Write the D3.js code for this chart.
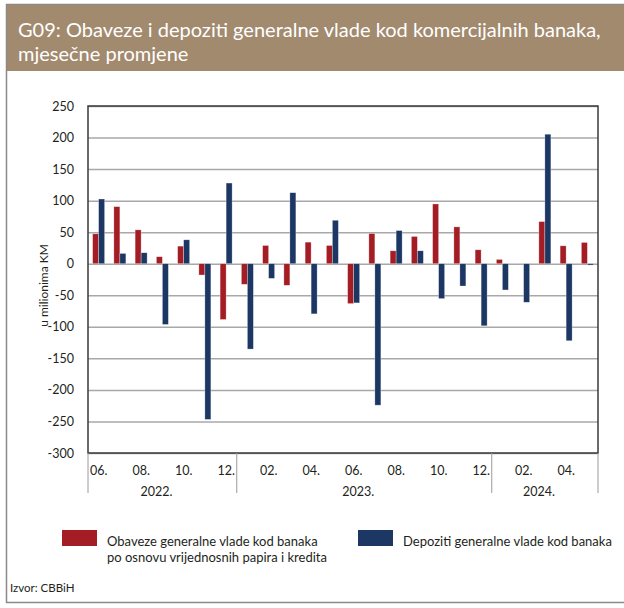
<!DOCTYPE html>
<html>
<head>
<meta charset="utf-8">
<script src="https://cdn.jsdelivr.net/npm/d3@7"></script>
<style>
  body { margin: 0; background: #fff; }
  text { font-family: Lato, "Open Sans", sans-serif; fill: #231f20; }
</style>
</head>
<body>
<div id="plot"></div>
<script>
const months = [
  "2022-06", "2022-07", "2022-08", "2022-09", "2022-10", "2022-11", "2022-12",
  "2023-01", "2023-02", "2023-03", "2023-04", "2023-05", "2023-06",
  "2023-07", "2023-08", "2023-09", "2023-10", "2023-11", "2023-12",
  "2024-01", "2024-02", "2024-03", "2024-04", "2024-05"
];
const obaveze = [47.4, 90.5, 53.7, 11.1, 27.9, -17.9, -88.4, -32.6, 28.9, -34.2, 34.2, 28.9,
  -63.2, 47.9, 20.5, 43.2, 94.7, 58.4, 22.1, 6.8, 0, 66.8, 28.4, 33.7];
const depoziti = [102.6, 16.3, 17.4, -96.3, 37.9, -246.8, 127.9, -135.3, -23.2, 112.6, -79.5, 68.9,
  -62.1, -224.2, 52.6, 20.5, -55.3, -35.3, -98.4, -41.6, -61.1, 205.3, -122.1, -2.1];
const yTicks = [250, 200, 150, 100, 50, 0, -50, -100, -150, -200, -250, -300];
const seriesNames = [
  ["Obaveze generalne vlade kod banaka", "po osnovu vrijednosnih papira i kredita"],
  ["Depoziti generalne vlade kod banaka"]
];
const colors = ["#a51d24", "#1c3764"];

const W = 624, H = 608;
const margin = {top: 106, right: 26, bottom: 155, left: 88};
const width = W - margin.left - margin.right;
const height = H - margin.top - margin.bottom;

const svg = d3.select("#plot")
  .append("svg")
  .attr("width", W)
  .attr("height", H);

// outer frame + title band
svg.append("rect")
  .attr("x", 6.5).attr("y", 4.5)
  .attr("width", W + 10).attr("height", 598)
  .attr("fill", "none")
  .attr("stroke", "#8a8a8a")
  .attr("stroke-width", 1.5);

svg.append("rect")
  .attr("x", 7).attr("y", 5)
  .attr("width", W).attr("height", 66)
  .attr("fill", "#a28a6e");

const title = svg.append("text")
  .style("font-size", "20px");
title.append("tspan").attr("x", 18).attr("y", 37)
  .style("fill", "#fff")
  .text("G09: Obaveze i depoziti generalne vlade kod komercijalnih banaka,");
title.append("tspan").attr("x", 18).attr("y", 61)
  .style("fill", "#fff")
  .text("mjesečne promjene");

const g = svg.append("g")
  .attr("transform", `translate(${margin.left},${margin.top})`);

const x0 = d3.scaleBand()
  .domain(months)
  .range([0, width])
  .paddingInner(0.435)
  .paddingOuter(0.2175);

const x1 = d3.scaleBand()
  .domain([0, 1])
  .range([0, x0.bandwidth()]);

const y = d3.scaleLinear()
  .domain([-300, 250])
  .range([height, 0]);

// gridlines
g.append("g")
  .attr("class", "grid")
  .call(d3.axisLeft(y).tickValues(yTicks).tickSize(-width).tickFormat(""))
  .call(s => s.select(".domain").remove())
  .call(s => s.selectAll("line").attr("stroke", "#a8a8a8").attr("stroke-width", 1.5));

// y labels
g.append("g")
  .call(d3.axisLeft(y).tickValues(yTicks).tickSize(0).tickPadding(14).tickFormat(d => String(d)))
  .call(s => s.select(".domain").remove())
  .call(s => s.selectAll("text").style("font-size", "12.5px").style("fill", "#231f20"));

g.append("text")
  .attr("transform", `translate(${-40},${height / 2 + 6}) rotate(-90)`)
  .attr("text-anchor", "middle")
  .style("font-size", "12px")
  .text("u milionima KM");

// bars
const rows = months.map((m, i) => ({month: m, values: [obaveze[i], depoziti[i]]}));

const groups = g.selectAll(".bar-group")
  .data(rows)
  .enter().append("g")
  .attr("class", "bar-group")
  .attr("transform", d => `translate(${x0(d.month)},0)`);

groups.selectAll("rect")
  .data(d => d.values.map((v, k) => ({k, v})))
  .enter().append("rect")
  .attr("x", d => x1(d.k))
  .attr("width", x1.bandwidth())
  .attr("y", d => y(Math.max(0, d.v)))
  .attr("height", d => Math.abs(y(d.v) - y(0)))
  .attr("fill", d => colors[d.k])
  .attr("stroke", "#fff")
  .attr("stroke-opacity", 0.5)
  .attr("stroke-width", 0.6);

// plot frame
g.append("rect")
  .attr("width", width).attr("height", height)
  .attr("fill", "none")
  .attr("stroke", "#3a3a3a")
  .attr("stroke-width", 1.5);

// x axis month labels
const xAxis = d3.axisBottom(x0)
  .tickValues(months.filter((m, i) => i % 2 === 0))
  .tickSize(0)
  .tickPadding(13)
  .tickFormat(m => m.slice(5) + ".");

g.append("g")
  .attr("transform", `translate(0,${height})`)
  .call(xAxis)
  .call(s => s.select(".domain").remove())
  .call(s => s.selectAll("text").style("font-size", "12.5px").style("fill", "#231f20"));

// year separators and labels
const step = x0.step();
const years = Array.from(d3.group(months, m => m.slice(0, 4)), ([yr, ms]) => ({yr, ms}));
const sepX = [0];
years.forEach(d => {
  const start = months.indexOf(d.ms[0]) * step;
  const end = (months.indexOf(d.ms[d.ms.length - 1]) + 1) * step;
  sepX.push(end);
  g.append("text")
    .attr("x", (start + end) / 2 - 6)
    .attr("y", height + 43)
    .attr("text-anchor", "middle")
    .style("font-size", "12.5px")
    .text(d.yr + ".");
});

g.selectAll(".sep")
  .data(sepX)
  .enter().append("line")
  .attr("class", "sep")
  .attr("x1", d => d).attr("x2", d => d)
  .attr("y1", height).attr("y2", height + 40)
  .attr("stroke", "#9a9a9a")
  .attr("stroke-width", 1);

// legend
const legendX = [62, 358];
seriesNames.forEach((lines, k) => {
  svg.append("rect")
    .attr("x", legendX[k]).attr("y", 530)
    .attr("width", 35).attr("height", 16)
    .attr("fill", colors[k]);
  const t = svg.append("text").style("font-size", "13px");
  lines.forEach((ln, j) => {
    t.append("tspan")
      .attr("x", legendX[k] + 45)
      .attr("y", 546 + j * 16)
      .text(ln);
  });
});

svg.append("text")
  .attr("x", 10).attr("y", 592)
  .style("font-size", "11.5px")
  .text("Izvor: CBBiH");
</script>
</body>
</html>
